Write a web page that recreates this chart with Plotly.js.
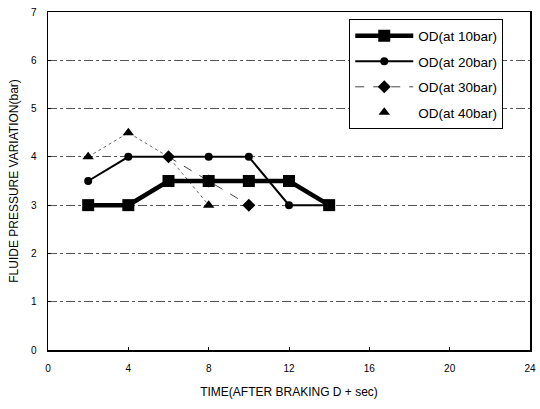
<!DOCTYPE html>
<html><head><meta charset="utf-8">
<script src="https://cdn.plot.ly/plotly-3.0.1.min.js"></script>
<style>html,body{margin:0;padding:0;background:#fff}#chart{width:540px;height:409px}</style>
</head><body><div id="chart"></div>
<script>
const x10 = [2,4,6,8,10,12,14];
const y10 = [3,3,3.5,3.5,3.5,3.5,3];
const x20 = [2,4,6,8,10,12,14];
const y20 = [3.5,4,4,4,4,3,3];
const x30 = [6,8,10];
const y30 = [4,3.5,3];
const x40 = [2,4,6,8];
const y40 = [4,4.5,4,3];
const names = ["OD(at 10bar)","OD(at 20bar)","OD(at 30bar)","OD(at 40bar)"];
const xTicks = [0,4,8,12,16,20,24];
const yTicks = [0,1,2,3,4,5,6,7];

const traces = [
  {x:x40,y:y40,mode:'lines',showlegend:false,hoverinfo:'skip',
   line:{color:'#666',width:1,dash:'dot'}},
  {x:x40,y:y40.map((v,i)=> x40[i]===6 ? null : v),name:names[3],mode:'markers',legendgroup:'d',legendrank:4,
   marker:{symbol:'triangle-up',size:10,color:'#000'}},
  {x:x30,y:y30,name:names[2],mode:'lines+markers',legendgroup:'c',legendrank:3,
   line:{color:'#444',width:1,dash:'dash'},marker:{symbol:'diamond',size:10,color:'#000'}},
  {x:x20,y:y20,name:names[1],mode:'lines+markers',legendgroup:'b',legendrank:2,
   line:{color:'#000',width:2},marker:{symbol:'circle',size:8,color:'#000'}},
  {x:x10,y:y10,name:names[0],mode:'lines+markers',legendgroup:'a',legendrank:1,
   line:{color:'#000',width:4.5},marker:{symbol:'square',size:12,color:'#000'}}
];
const layout = {
  width:540,height:409,
  margin:{l:48,r:10,t:12,b:59},
  paper_bgcolor:'#fff',plot_bgcolor:'#fff',
  font:{family:'Arial, Liberation Sans, sans-serif',color:'#000',size:10},
  showlegend:true,
  legend:{x:0.625,y:0.978,xanchor:'left',yanchor:'top',traceorder:'grouped',
    tracegroupgap:5,itemwidth:58,bordercolor:'#000',borderwidth:1,bgcolor:'#fff',
    font:{size:13.5,family:'Arial, Liberation Sans, sans-serif'}},
  xaxis:{range:[0,24],tickvals:xTicks,ticktext:xTicks.map(String),showgrid:false,zeroline:false,
    showline:true,linecolor:'#000',linewidth:1.5,mirror:true,ticks:'inside',ticklen:3,
    tickcolor:'#000',ticklabelstandoff:8,
    title:{text:'TIME(AFTER BRAKING D + sec)',font:{size:12},standoff:15}},
  yaxis:{range:[0,7],tickvals:yTicks,ticktext:yTicks.map(String),showgrid:true,
    gridcolor:'#555',griddash:'dashdot',gridwidth:1,zeroline:false,
    showline:true,linecolor:'#000',linewidth:1.5,mirror:true,ticks:'inside',ticklen:3,
    tickcolor:'#000',ticklabelstandoff:8,
    title:{text:'FLUIDE PRESSURE VARIATION(bar)',font:{size:12},standoff:9}}
};
Plotly.newPlot('chart',traces,layout,{displayModeBar:false,staticPlot:true});
</script></body></html>
